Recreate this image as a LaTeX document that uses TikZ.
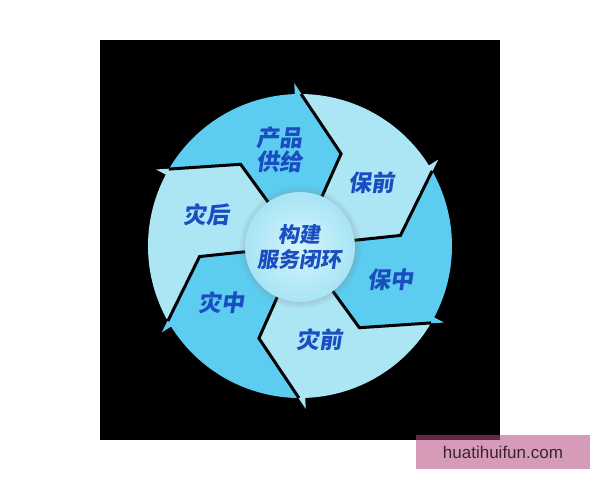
\documentclass[tikz,border=0pt]{standalone}
\usepackage{fontspec}
\usepackage{tikz}
\usetikzlibrary{positioning,shadows}
\newfontfamily\cjk{Noto Sans CJK SC}[FakeSlant=0.15]
\newfontfamily\wmfont{Liberation Sans}
\definecolor{segdark}{RGB}{92,204,240}
\definecolor{seglight}{RGB}{172,230,245}
\definecolor{hubin}{RGB}{214,244,251}
\definecolor{hubout}{RGB}{168,228,245}
\definecolor{txtblue}{RGB}{26,78,192}
\definecolor{wmpink}{RGB}{181,72,127}
\definecolor{wmtext}{RGB}{58,36,52}

\begin{document}
\begin{tikzpicture}[x=1pt,y=1pt,
    seg/.style={fill=#1},
    gap/.style={draw=black,line width=3pt,line join=miter},
    lab/.style={font=\cjk\bfseries\fontsize{23}{24}\selectfont,text=txtblue,align=center},
    hub/.style={circle,minimum size=110pt,inner sep=0pt,inner color=hubin,outer color=hubout,
        circular drop shadow={shadow xshift=0pt,shadow yshift=0pt,shadow scale=1.12,opacity=.35},
        font=\cjk\bfseries\fontsize{21}{25}\selectfont,text=txtblue,align=center}]
    \useasboundingbox (-300,-234) rectangle (300,246);
    \fill[black] (-200,-194) rectangle (200,206);

    % six arrow segments, clockwise
    \path[seg=segdark] (150:152) arc[start angle=150,end angle=92,radius=152] -- (92:163) -- (66:101) -- (66:40)
        arc[start angle=66,end angle=126,radius=40] -- (126:101) -- cycle;
    \path[seg=seglight] (90:152) arc[start angle=90,end angle=32,radius=152] -- (32:163) -- (6:101) -- (6:40)
        arc[start angle=6,end angle=66,radius=40] -- (66:101) -- cycle;
    \path[seg=segdark] (30:152) arc[start angle=30,end angle=-28,radius=152] -- (-28:163) -- (-54:101) -- (-54:40)
        arc[start angle=-54,end angle=6,radius=40] -- (6:101) -- cycle;
    \path[seg=seglight] (-30:152) arc[start angle=-30,end angle=-88,radius=152] -- (-88:163) -- (-114:101) -- (-114:40)
        arc[start angle=-114,end angle=-54,radius=40] -- (-54:101) -- cycle;
    \path[seg=segdark] (-90:152) arc[start angle=-90,end angle=-148,radius=152] -- (-148:163) -- (-174:101) -- (-174:40)
        arc[start angle=-174,end angle=-114,radius=40] -- (-114:101) -- cycle;
    \path[seg=seglight] (210:152) arc[start angle=210,end angle=152,radius=152] -- (152:163) -- (126:101) -- (126:40)
        arc[start angle=126,end angle=186,radius=40] -- (186:101) -- cycle;

    % black gaps between segments
    \draw[gap] (89.6:152) -- (66:101) -- (66:54);
    \draw[gap] (29.6:152) -- (6:101) -- (6:54);
    \draw[gap] (-30.4:152) -- (-54:101) -- (-54:54);
    \draw[gap] (-90.4:152) -- (-114:101) -- (-114:54);
    \draw[gap] (-150.4:152) -- (-174:101) -- (-174:54);
    \draw[gap] (149.6:152) -- (126:101) -- (126:54);

    \node[hub] (hub) at (0,-1) {构建\\服务闭环};

    \node[lab] (gongji) at (-20,96) {产品\\供给};
    \node[lab] (baoqian) at (72,63) {保前};
    \node[lab] (baozhong) at (90,-34) {保中};
    \node[lab] (zaiqian) at (20,-94) {灾前};
    \node[lab] (zaizhong) at (-78,-57) {灾中};
    \node[lab] (zaihou) at (-93,31) {灾后};

    \fill[wmpink,opacity=.55] (116,-189) rectangle (290,-223);
    \node[font=\wmfont\fontsize{17}{17}\selectfont,text=wmtext] (mark) at (203,-206) {huatihuifun.com};
\end{tikzpicture}
\end{document}
